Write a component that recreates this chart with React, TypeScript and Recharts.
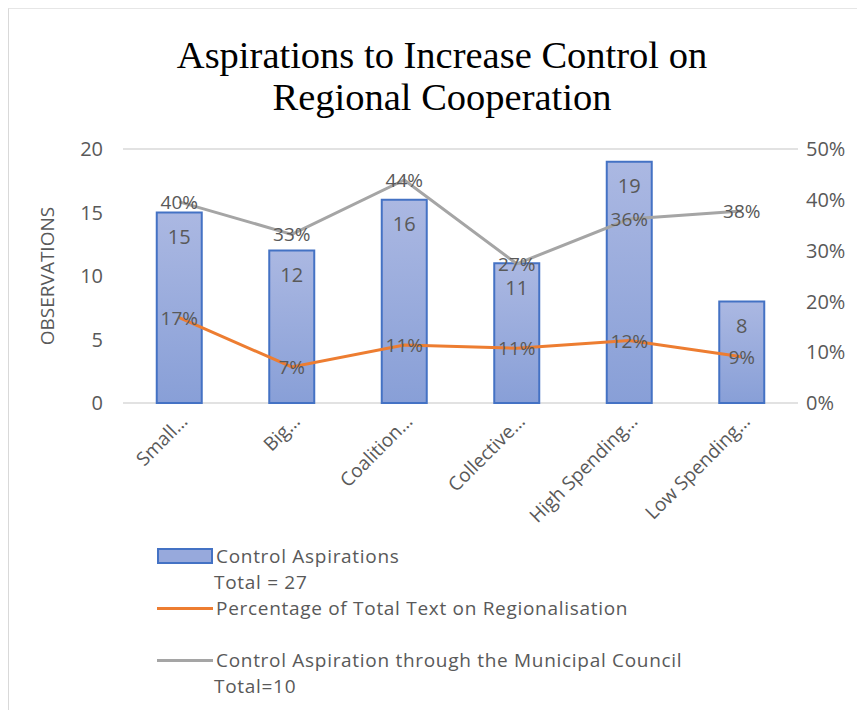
import React from 'react';
import {
  ComposedChart,
  Bar,
  Line,
  XAxis,
  YAxis,
  CartesianGrid,
  Legend,
  LabelList,
} from 'recharts';

const categories = ['Small…', 'Big…', 'Coalition…', 'Collective…', 'High Spending…', 'Low Spending…'];
const controlAspirations = [15, 12, 16, 11, 19, 8];
const textPercentage = [16.8, 7.1, 11.4, 10.8, 12.3, 9.1];
const councilAspiration = [39.6, 33.2, 43.9, 27.4, 36.2, 37.8];
const leftTicks = [0, 5, 10, 15, 20];
const rightTicks = [0, 10, 20, 30, 40, 50];

const data = categories.map((name, i) => ({
  name,
  control: controlAspirations[i],
  text: textPercentage[i],
  council: councilAspiration[i],
}));

const GREY = '#595959';
const FONT = '"Open Sans", Lato, sans-serif';

const pctLabel = (props: any) => {
  const { x, y, value } = props;
  return (
    <text x={x} y={y} textAnchor="middle" dominantBaseline="central" fill={GREY} fontSize={19} fontFamily={FONT}>
      {Math.round(value)}%
    </text>
  );
};

const LegendBox = () => (
  <div style={{ fontFamily: FONT, fontSize: 19, letterSpacing: 0.7, color: GREY, lineHeight: '26px' }}>
    <div style={{ display: 'flex', alignItems: 'center' }}>
      <span style={{ display: 'inline-block', width: 52, height: 12, background: '#97a9dc', border: '2px solid #4472c4', marginRight: 3 }} />
      Control Aspirations
    </div>
    <div style={{ paddingLeft: 57 }}>Total = 27</div>
    <div style={{ display: 'flex', alignItems: 'center' }}>
      <span style={{ display: 'inline-block', width: 56, height: 3, background: '#ed7d31', marginRight: 3 }} />
      Percentage of Total Text on Regionalisation
    </div>
    <div style={{ display: 'flex', alignItems: 'center', marginTop: 26 }}>
      <span style={{ display: 'inline-block', width: 56, height: 3, background: '#a5a5a5', marginRight: 3 }} />
      Control Aspiration through the Municipal Council
    </div>
    <div style={{ paddingLeft: 57 }}>Total=10</div>
  </div>
);

export default function App() {
  return (
    <div style={{ position: 'relative', width: 857, height: 702, borderLeft: '1px solid #d9d9d9', borderTop: '1px solid #e6e6e6', boxSizing: 'border-box' }}>
      <div
        style={{
          position: 'absolute',
          top: 25,
          left: 0,
          width: 866,
          textAlign: 'center',
          fontFamily: '"Liberation Serif", "Times New Roman", serif',
          fontSize: 38.5,
          lineHeight: '42px',
          color: '#000',
        }}
      >
        Aspirations to Increase Control on
        <br />
        Regional Cooperation
      </div>
      <ComposedChart
        width={857}
        height={702}
        data={data}
        margin={{ top: 140, right: 0, left: 0, bottom: 168 }}
        barCategoryGap="30%"
      >
        <defs>
          <linearGradient id="barFill" x1="0" y1="0" x2="0" y2="1">
            <stop offset="0%" stopColor="#abb8e2" />
            <stop offset="100%" stopColor="#889fd7" />
          </linearGradient>
        </defs>
        <CartesianGrid vertical={false} stroke="#d9d9d9" strokeWidth={1.5} />
        <XAxis
          dataKey="name"
          axisLine={false}
          tickLine={false}
          interval={0}
          height={140}
          tick={{ fill: GREY, fontSize: 19, fontFamily: FONT }}
          angle={-45}
          textAnchor="end"
          dy={2}
        />
        <YAxis
          yAxisId="left"
          domain={[0, 20]}
          ticks={leftTicks}
          axisLine={false}
          tickLine={false}
          width={114}
          tick={{ fill: GREY, fontSize: 20, fontFamily: FONT, dx: -12 }}
          label={{ value: 'OBSERVATIONS', angle: -90, position: 'insideLeft', offset: 38, fontSize: 19, fill: GREY, fontFamily: FONT, textAnchor: 'middle' }}
        />
        <YAxis
          yAxisId="right"
          orientation="right"
          domain={[0, 50]}
          ticks={rightTicks}
          tickFormatter={(v: number) => `${v}%`}
          axisLine={false}
          tickLine={false}
          width={68}
          tick={{ fill: GREY, fontSize: 20, fontFamily: FONT }}
        />
        <Bar yAxisId="left" dataKey="control" fill="url(#barFill)" stroke="#4472c4" strokeWidth={2} isAnimationActive={false}>
          <LabelList dataKey="control" position="insideTop" offset={17} fill={GREY} fontSize={20} fontFamily={FONT} />
        </Bar>
        <Line yAxisId="right" dataKey="text" stroke="#ed7d31" strokeWidth={3} dot={false} isAnimationActive={false}>
          <LabelList dataKey="text" content={pctLabel} />
        </Line>
        <Line yAxisId="right" dataKey="council" stroke="#a5a5a5" strokeWidth={3} dot={false} isAnimationActive={false}>
          <LabelList dataKey="council" content={pctLabel} />
        </Line>
        <Legend
          layout="vertical"
          verticalAlign="middle"
          align="center"
          content={<LegendBox />}
          wrapperStyle={{ position: 'absolute', top: 534, left: 148, width: 690 }}
        />
      </ComposedChart>
    </div>
  );
}
